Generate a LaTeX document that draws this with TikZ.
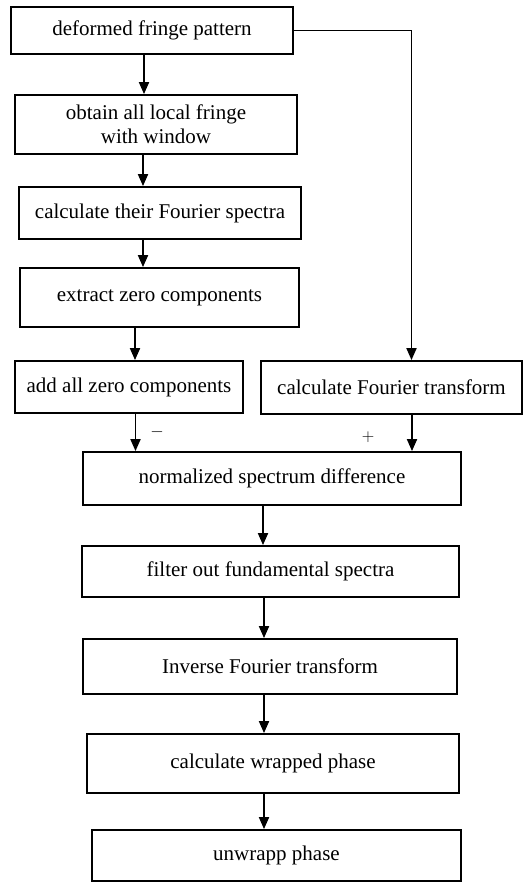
\documentclass[tikz,border=0pt]{standalone}
\usepackage{fontspec}
\setmainfont{Liberation Serif}
\usepackage{tikz}
\usetikzlibrary{arrows.meta, positioning}

\tikzset{
  stepbox/.style={draw, line width=1.8pt, align=center, inner sep=0pt,
    font=\fontsize{21}{24}\selectfont},
  arr/.style={line width=1.8pt, -{Triangle[length=12pt,width=10pt]}},
  sign/.style={font=\fontsize{18}{20}\selectfont, inner sep=0pt}
}

\begin{document}
\begin{tikzpicture}[x=1pt, y=-1pt]
  \useasboundingbox (0,0) rectangle (524,882);
  % left branch
  \node[stepbox, minimum width=282pt, minimum height=47pt] (pattern) at (152,30.5) {deformed fringe pattern};
  \node[stepbox, minimum width=282pt, minimum height=59pt] (window) at (156,124.5) {obtain all local fringe\\ with window};
  \node[stepbox, minimum width=282pt, minimum height=52pt] (spectra) at (160,213) {calculate their Fourier spectra};
  \node[stepbox, minimum width=279pt, minimum height=59pt] (extract) at (159.5,297.5) {extract zero components};
  \node[stepbox, minimum width=228pt, minimum height=52pt] (addzero) at (129,387) {add all zero components};
  % right branch
  \node[stepbox, minimum width=261pt, minimum height=53pt] (fourier) at (391.5,387.5) {calculate Fourier transform};
  % main column
  \node[stepbox, minimum width=378pt, minimum height=53pt] (diff) at (272,478.5) {normalized spectrum difference};
  \node[stepbox, minimum width=377pt, minimum height=51pt] (filter) at (270.5,571.5) {filter out fundamental spectra};
  \node[stepbox, minimum width=374pt, minimum height=55pt] (inverse) at (270,666.5) {Inverse Fourier transform};
  \node[stepbox, minimum width=372pt, minimum height=59pt] (wrapped) at (273,763.5) {calculate wrapped phase};
  \node[stepbox, minimum width=369pt, minimum height=51pt] (unwrap) at (276.5,855.5) {unwrapp phase};
  % signs
  \node[sign] (minus) at (157,432) {$-$};
  \node[sign] (plus) at (368,437) {$+$};

  % arrows
  \draw[arr] ([xshift=-8pt]pattern.south) -- ([xshift=-8pt]pattern.south |- window.north);
  \draw[arr] ([xshift=-13pt]window.south) -- ([xshift=-13pt]window.south |- spectra.north);
  \draw[arr] ([xshift=-17pt]spectra.south) -- ([xshift=-17pt]spectra.south |- extract.north);
  \draw[arr] ([xshift=-24.5pt]extract.south) -- ([xshift=-24.5pt]extract.south |- addzero.north);
  \draw[arr] (pattern.east) -- ([xshift=20pt]fourier.north |- pattern.east) -- ([xshift=20pt]fourier.north);
  \draw[arr] ([xshift=6.5pt]addzero.south) -- ([xshift=6.5pt]addzero.south |- diff.north);
  \draw[arr] ([xshift=20.5pt]fourier.south) -- ([xshift=20.5pt]fourier.south |- diff.north);
  \draw[arr] ([xshift=-9pt]diff.south) -- ([xshift=-9pt]diff.south |- filter.north);
  \draw[arr] ([xshift=-6.5pt]filter.south) -- ([xshift=-6.5pt]filter.south |- inverse.north);
  \draw[arr] ([xshift=-6pt]inverse.south) -- ([xshift=-6pt]inverse.south |- wrapped.north);
  \draw[arr] ([xshift=-9pt]wrapped.south) -- ([xshift=-9pt]wrapped.south |- unwrap.north);
\end{tikzpicture}
\end{document}
